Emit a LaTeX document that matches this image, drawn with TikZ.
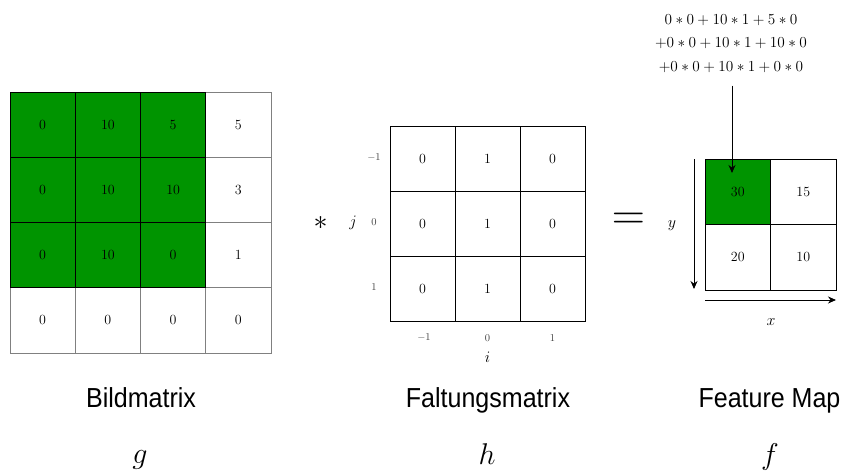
\RequirePackage{fix-cm}
\documentclass[tikz,border=0pt]{standalone}
\usepackage{fontspec}
\newfontfamily\labelfont{Liberation Sans}
\usetikzlibrary{arrows.meta}
\definecolor{cellgreen}{RGB}{0,148,0}
\newcommand{\capbox}[1]{\scalebox{0.91}[1.0]{#1}}
\begin{document}
\begin{tikzpicture}[x=1pt,y=-1pt,
  cellbase/.style={draw, minimum size=65.25pt, inner sep=0pt, font=\fontsize{14}{16}\selectfont, line width=0.9pt},
  whitecell/.style={cellbase, draw=black!50, fill=white},
  greencell/.style={cellbase, draw=black, fill=cellgreen},
  kcell/.style={cellbase, minimum size=65pt, draw=black},
  fcell/.style={cellbase, minimum size=65.5pt, draw=black},
  idx/.style={font=\fontsize{10.5}{12}\selectfont, text=black!75},
  axlabel/.style={font=\fontsize{16}{18}\selectfont},
  caption/.style={font=\labelfont\fontsize{27.5}{30}\selectfont, anchor=base},
  sym/.style={font=\fontsize{30}{34}\selectfont, anchor=base},
  arr/.style={-{Stealth[length=8pt,width=7pt]}, line width=0.9pt}
]
\useasboundingbox (0,0) rectangle (843,471);

% Bildmatrix g
\foreach \r/\c/\v in {4/1/0,4/2/0,4/3/0,4/4/0,1/4/5,2/4/3,3/4/1}
  \node[whitecell] (g\r\c) at ({10+65.25*(\c-0.5)},{92+65.25*(\r-0.5)}) {\v};
\foreach \r/\c/\v in {1/1/0,1/2/10,1/3/5,2/1/0,2/2/10,2/3/10,3/1/0,3/2/10,3/3/0}
  \node[greencell] (g\r\c) at ({10+65.25*(\c-0.5)},{92+65.25*(\r-0.5)}) {\v};

% Faltungsmatrix h
\foreach \r in {1,2,3}
  \foreach \c/\v in {1/0,2/1,3/0}
    \node[kcell] (h\r\c) at ({390+65*(\c-0.5)},{126+65*(\r-0.5)}) {\v};

\node[idx] (jm1) at (374,158) {$-1$};
\node[idx] (j0)  at (374,222) {$0$};
\node[idx] (jp1) at (374,287) {$1$};
\node[idx] (im1) at (424,338) {$-1$};
\node[idx] (i0)  at (487.5,338) {$0$};
\node[idx] (ip1) at (552.5,338) {$1$};
\node[axlabel] (jlab) at (353,223) {$j$};
\node[axlabel] (ilab) at (487.5,357.5) {$i$};

% operators
\node[font=\fontsize{28}{30}\selectfont] (conv) at (320.5,223) {$\ast$};
\node[font=\fontsize{46}{50}\selectfont] (eqsign) at (628.5,221.2) {$=$};

% Feature Map f
\node[fcell, fill=cellgreen] (f11) at ({705+65.5*0.5},{159+65.5*0.5}) {30};
\node[fcell, fill=white] (f12) at ({705+65.5*1.5},{159+65.5*0.5}) {15};
\node[fcell, fill=white] (f21) at ({705+65.5*0.5},{159+65.5*1.5}) {20};
\node[fcell, fill=white] (f22) at ({705+65.5*1.5},{159+65.5*1.5}) {10};

\coordinate (yaxs) at (694,159);
\coordinate (yaxe) at (694,289);
\draw[arr] (yaxs) -- (yaxe);
\coordinate (xaxs) at (705,300);
\coordinate (xaxe) at (836,300);
\draw[arr] (xaxs) -- (xaxe);
\node[axlabel] (ylab) at (672,226) {$y$};
\node[axlabel] (xlab) at (771,322) {$x$};

% computation
\node[font=\fontsize{15.3}{23.5}\selectfont, align=center, inner sep=0pt, outer ysep=13pt] (eq) at (731,43.5)
  {$0*0+10*1+5*0$\\$+0*0+10*1+10*0$\\$+0*0+10*1+0*0$};
\coordinate (tip) at (732,173);
\draw[arr] (eq.south -| tip) -- (tip);

% captions
\node[caption] (capg) at (141,407) {\capbox{Bildmatrix}};
\node[caption] (caph) at (488,407) {\capbox{Faltungsmatrix}};
\node[caption] (capf) at (769.5,407) {\capbox{Feature Map}};
\node[sym] (symg) at (140,463.5) {$g$};
\node[sym] (symh) at (487,464) {$h$};
\node[sym] (symf) at (770,464) {$f$};
\end{tikzpicture}
\end{document}
